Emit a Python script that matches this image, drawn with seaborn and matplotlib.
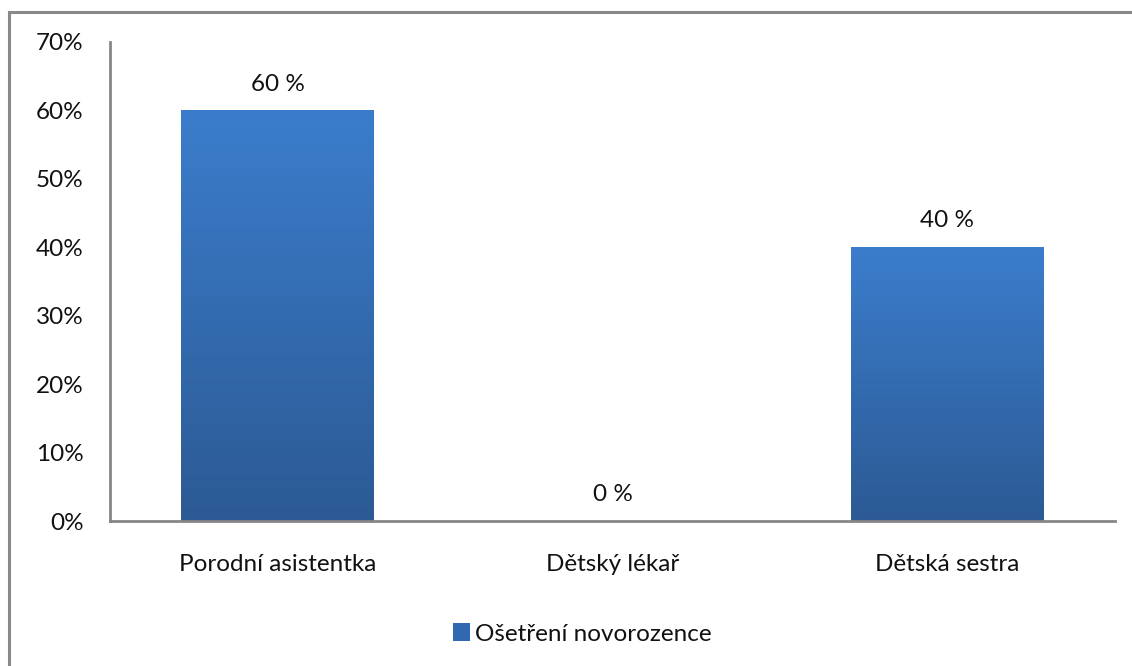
import numpy as np
import pandas as pd
import matplotlib
matplotlib.use("Agg")
import matplotlib.pyplot as plt
import seaborn as sns
from matplotlib.patches import Rectangle
from matplotlib.colors import LinearSegmentedColormap
from matplotlib.ticker import FuncFormatter

categories = ["Porodní asistentka", "Dětský lékař", "Dětská sestra"]
values = [60, 0, 40]
series_name = "Ošetření novorozence"
y_ticks = [0, 10, 20, 30, 40, 50, 60, 70]

sns.set_style("white")
plt.rcParams["font.family"] = ["Lato", "DejaVu Sans"]
FS = 17.5

df = pd.DataFrame({"kategorie": categories, "podil": values})

fig = plt.figure(figsize=(11.32, 6.66), dpi=100)
ax = fig.add_axes([110 / 1132, 145 / 666, (1115 - 110) / 1132, (624 - 145) / 666])

top_col = "#3b7dcc"
bot_col = "#2c5a94"
sns.barplot(data=df, x="kategorie", y="podil", color=top_col, width=0.575,
            ax=ax, saturation=1)

# vertical gradient fill clipped to each bar
grad = LinearSegmentedColormap.from_list("g", [bot_col, top_col])
gimg = np.linspace(0, 1, 256).reshape(-1, 1)
for patch in ax.patches:
    x0, y0 = patch.get_x(), patch.get_y()
    w, h = patch.get_width(), patch.get_height()
    if h <= 0:
        continue
    patch.set_facecolor("none")
    patch.set_edgecolor("none")
    im = ax.imshow(gimg, cmap=grad, aspect="auto", origin="lower",
                   extent=[x0, x0 + w, y0, y0 + h], zorder=2)
    clip = Rectangle((x0, y0), w, h, transform=ax.transData, facecolor="none",
                     edgecolor="none")
    ax.add_patch(clip)
    im.set_clip_path(clip)

ax.set_xlim(-0.5, len(categories) - 0.5)
ax.set_ylim(0, 70)
ax.set_yticks(y_ticks)
ax.yaxis.set_major_formatter(FuncFormatter(lambda v, p: f"{int(v)}%"))
ax.tick_params(axis="y", length=0, pad=19, labelsize=FS, labelcolor="#111111")
ax.tick_params(axis="x", length=0, pad=24, labelsize=FS, labelcolor="#111111")
ax.set_xlabel("")
ax.set_ylabel("")

for s in ["top", "right"]:
    ax.spines[s].set_visible(False)
for s in ["left", "bottom"]:
    ax.spines[s].set_color("#868686")
    ax.spines[s].set_linewidth(2)

# value labels above bars
for i, v in enumerate(values):
    ax.annotate(f"{v} %", xy=(i, v), xytext=(0, 19), textcoords="offset points",
                ha="center", va="center", fontsize=FS, color="#111111")

# legend below the plot
handle = Rectangle((0, 0), 1, 1, facecolor="#3169b0", edgecolor="none")
fig.legend([handle], [series_name], loc="center", bbox_to_anchor=(582 / 1132, 1 - 634 / 666),
           frameon=False, fontsize=FS, handlelength=0.7, handleheight=0.7,
           handletextpad=0.2, labelcolor="#111111")

# outer chart frame
frame = Rectangle((9 / 1132, -0.1), 1.2, 1 - 12 / 666 + 0.1, transform=fig.transFigure,
                  facecolor="none", edgecolor="#898989", linewidth=2.2)
fig.patches.append(frame)

fig.savefig("out.png", dpi=100)
